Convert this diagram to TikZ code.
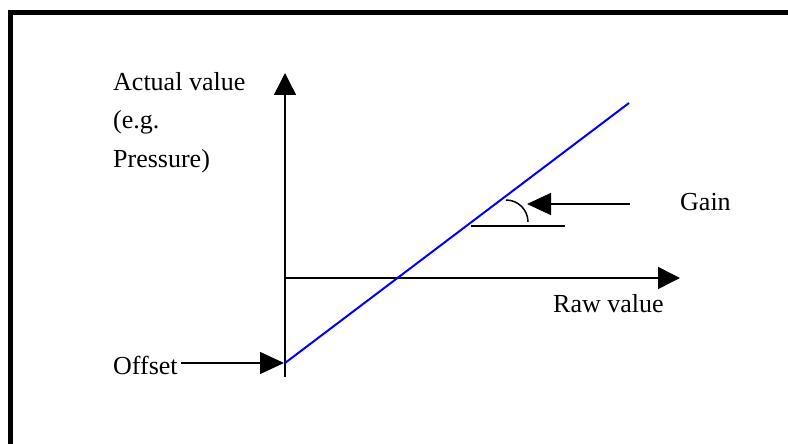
\documentclass[tikz,border=0pt]{standalone}
\usepackage{fontspec}
\setmainfont{Liberation Serif}
\usetikzlibrary{arrows.meta}
\begin{document}
\begin{tikzpicture}[x=1pt,y=-1pt,
  axis/.style={line width=1.5pt,-{Triangle[length=22pt,width=22pt]}},
  pointer/.style={line width=1.5pt,-{Triangle[length=24pt,width=22pt]}},
  lbl/.style={font=\fontsize{26}{38.5}\selectfont,inner sep=0pt,anchor=base west,align=left},
  plotline/.style={blue,line width=2pt}]
\useasboundingbox (0,0) rectangle (788,444);
\clip (0,0) rectangle (788,444);
\draw[line width=5pt] (10.5,460) -- (10.5,12.5) -- (800,12.5);
% axes
\coordinate (ybot) at (285,377);
\coordinate (ytop) at (285,73);
\coordinate (xstart) at (285,278);
\coordinate (xend) at (680,278);
\draw[axis] (ybot) -- (ytop);
\draw[axis] (xstart) -- (xend);
% calibration line
\coordinate (b0) at (285,363);
\coordinate (b1) at (629,103);
\draw[plotline] (b0) -- (b1);
% gain marker
\coordinate (h0) at (471,226);
\coordinate (h1) at (565,226);
\draw[line width=1.5pt] (h0) -- (h1);
\coordinate (a0) at (506,200);
\draw[line width=1.5pt] (a0) arc[start angle=-90,end angle=0,radius=22];
% labels
\node[lbl] (gain) at (680,210) {Gain};
\node[lbl] (raw) at (553,312) {Raw value};
\node[lbl] (offset) at (113,374) {Offset};
\node[lbl,anchor=north west] (actual) at (113,72) {Actual value\\(e.g.\\Pressure)};
\coordinate (gtail) at (630,204);
\coordinate (gtip) at (527,204);
\draw[pointer] (gtail) -- (gtip);
\coordinate (otail) at (181,363);
\coordinate (otip) at (284,363);
\draw[pointer] (otail) -- (otip);
\end{tikzpicture}
\end{document}
